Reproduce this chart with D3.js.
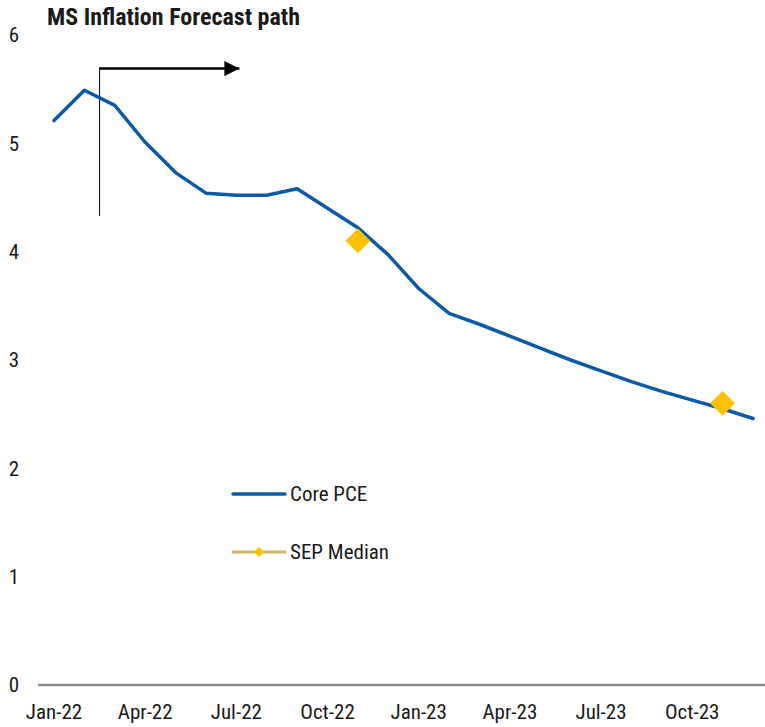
<!DOCTYPE html>
<html>
<head>
<meta charset="utf-8">
<script src="https://cdn.jsdelivr.net/npm/d3@7"></script>
<style>
  body { margin: 0; background: #fff; }
  text { font-family: "Roboto Condensed", Roboto, "Liberation Sans", sans-serif; fill: #1a1a1a; }
</style>
</head>
<body>
<div id="chart"></div>
<script>
// monthly categories, Jan-22 .. Dec-23
var months = ["Jan-22","Feb-22","Mar-22","Apr-22","May-22","Jun-22","Jul-22","Aug-22","Sep-22","Oct-22","Nov-22","Dec-22",
              "Jan-23","Feb-23","Mar-23","Apr-23","May-23","Jun-23","Jul-23","Aug-23","Sep-23","Oct-23","Nov-23","Dec-23"];

// Core PCE path (actual + MS forecast)
var corePCE = [5.21, 5.49, 5.35, 5.01, 4.73, 4.54, 4.52, 4.52, 4.58, 4.40, 4.22, 3.97,
               3.66, 3.43, 3.33, 3.22, 3.11, 3.00, 2.90, 2.80, 2.71, 2.63, 2.55, 2.46];

// SEP median points
var sepMonths = ["Nov-22", "Nov-23"];
var sepValues = [4.10, 2.60];

var xTicks = ["Jan-22","Apr-22","Jul-22","Oct-22","Jan-23","Apr-23","Jul-23","Oct-23"];
var yTicks = [0, 1, 2, 3, 4, 5, 6];

var width = 765, height = 727;
var blue = "#0b5aa6", gold = "#ffc000";

var svg = d3.select("#chart").append("svg")
    .attr("width", width)
    .attr("height", height);

var x = d3.scalePoint().domain(months).range([54, 753]);
var y = d3.scaleLinear().domain([0, 6]).range([685, 35]);
var step = x.step();

// title
svg.append("text")
    .attr("x", 47).attr("y", 25)
    .style("font-size", "24px").style("font-weight", "bold")
    .text("MS Inflation Forecast path");

// y labels (no axis line)
svg.append("g").selectAll("text")
    .data(yTicks)
    .enter().append("text")
    .attr("x", 14)
    .attr("y", function(d) { return y(d); })
    .attr("dy", "0.35em")
    .attr("text-anchor", "middle")
    .style("font-size", "21px")
    .text(function(d) { return d; });

// x axis line
svg.append("line")
    .attr("x1", 38).attr("x2", 765)
    .attr("y1", y(0)).attr("y2", y(0))
    .style("stroke", "#8c8c8c").style("stroke-width", 2.5);

svg.append("g").selectAll("text")
    .data(xTicks)
    .enter().append("text")
    .attr("x", function(d) { return x(d); })
    .attr("y", 719)
    .attr("text-anchor", "middle")
    .style("font-size", "21px")
    .text(function(d) { return d; });

// forecast start marker + arrow
var fx = x("Feb-22") + step / 2;
svg.append("defs").append("marker")
    .attr("id", "arrow")
    .attr("viewBox", "0 0 10 10")
    .attr("refX", 10).attr("refY", 5)
    .attr("markerWidth", 18).attr("markerHeight", 15)
    .attr("markerUnits", "userSpaceOnUse")
    .attr("orient", "auto")
    .append("path").attr("d", "M0,0L10,5L0,10Z").style("fill", "#000");

svg.append("line")
    .attr("x1", fx).attr("x2", fx)
    .attr("y1", y(5.7)).attr("y2", y(4.33))
    .style("stroke", "#000").style("stroke-width", 1);

svg.append("line")
    .attr("x1", fx).attr("x2", x("Jul-22") + step * 0.1)
    .attr("y1", y(5.69)).attr("y2", y(5.69))
    .style("stroke", "#000").style("stroke-width", 2.5)
    .attr("marker-end", "url(#arrow)");

// core PCE line
var line = d3.line()
    .x(function(d, i) { return x(months[i]); })
    .y(function(d) { return y(d); });

svg.append("path")
    .datum(corePCE)
    .attr("d", line)
    .style("fill", "none")
    .style("stroke", blue)
    .style("stroke-width", 3.5)
    .style("stroke-linejoin", "round")
    .style("stroke-linecap", "round");

// SEP diamonds
svg.append("g").selectAll("path")
    .data(sepValues)
    .enter().append("path")
    .attr("d", d3.symbol().type(d3.symbolSquare).size(310))
    .attr("transform", function(d, i) {
        return "translate(" + x(sepMonths[i]) + "," + y(d) + ") rotate(45)";
    })
    .style("fill", gold);

// legend
var lg = svg.append("g");
lg.append("line")
    .attr("x1", 233).attr("x2", 285).attr("y1", 494).attr("y2", 494)
    .style("stroke", blue).style("stroke-width", 3.5).style("stroke-linecap", "round");
lg.append("text")
    .attr("x", 290).attr("y", 494).attr("dy", "0.35em")
    .style("font-size", "21px")
    .text("Core PCE");
lg.append("line")
    .attr("x1", 233).attr("x2", 285).attr("y1", 552).attr("y2", 552)
    .style("stroke", "#d2b967").style("stroke-width", 3).style("stroke-linecap", "round");
lg.append("path")
    .attr("d", d3.symbol().type(d3.symbolSquare).size(50))
    .attr("transform", "translate(259,552) rotate(45)")
    .style("fill", gold);
lg.append("text")
    .attr("x", 290).attr("y", 552).attr("dy", "0.35em")
    .style("font-size", "21px")
    .text("SEP Median");
</script>
</body>
</html>
